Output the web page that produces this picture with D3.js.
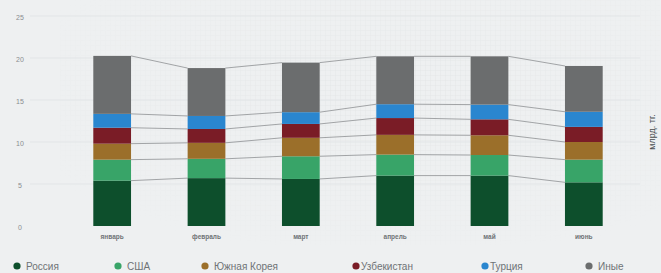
<!DOCTYPE html>
<html>
<head>
<meta charset="utf-8">
<script src="https://cdn.jsdelivr.net/npm/d3@7"></script>
<style>
  html, body { margin: 0; padding: 0; background: #eef0f1; }
  svg { display: block; font-family: "Liberation Sans", Arial, sans-serif; }
</style>
</head>
<body>
<div id="chart"></div>
<script>
// месяцы и значения по странам (млрд. тг.)
const months = ['январь', 'февраль', 'март', 'апрель', 'май', 'июнь'];
const russia = [5.4, 5.7, 5.6, 6.0, 6.0, 5.2];
const usa = [2.5, 2.3, 2.7, 2.5, 2.45, 2.7];
const korea = [1.9, 1.9, 2.2, 2.35, 2.35, 2.1];
const uzbek = [1.9, 1.65, 1.65, 2.0, 1.9, 1.8];
const turkey = [1.65, 1.55, 1.4, 1.65, 1.75, 1.8];
const other = [6.9, 5.7, 5.9, 5.7, 5.75, 5.45];
const yTicks = [0, 5, 10, 15, 20, 25];

const seriesNames = ['Россия', 'США', 'Южная Корея', 'Узбекистан', 'Турция', 'Иные'];
const seriesColors = ['#0d4f2c', '#38a468', '#9b6f2a', '#7a1c26', '#2a86cf', '#6b6d6e'];
const seriesData = [russia, usa, korea, uzbek, turkey, other];

const width = 661, height = 273;

const svg = d3.select('#chart').append('svg')
    .attr('width', width)
    .attr('height', height);

// фон с сеткой "миллиметровки"
const defs = svg.append('defs');
const pat = defs.append('pattern')
    .attr('id', 'grid')
    .attr('width', 5).attr('height', 5)
    .attr('patternUnits', 'userSpaceOnUse');
pat.append('path')
    .attr('d', 'M5 0H0V5')
    .attr('fill', 'none')
    .attr('stroke', '#d9dcde')
    .attr('stroke-width', 0.6);
const grad = defs.append('radialGradient').attr('id', 'fade')
    .attr('cx', '0.6').attr('cy', '0.35').attr('r', '0.6');
grad.append('stop').attr('offset', '0').attr('stop-color', '#fff').attr('stop-opacity', 0.9);
grad.append('stop').attr('offset', '1').attr('stop-color', '#fff').attr('stop-opacity', 0);
const mask = defs.append('mask').attr('id', 'gridMask');
mask.append('rect').attr('width', width).attr('height', height).attr('fill', 'url(#fade)');

svg.append('rect')
    .attr('width', width).attr('height', height)
    .attr('fill', '#eef0f1');
svg.append('rect')
    .attr('x', 60).attr('y', 0)
    .attr('width', 600).attr('height', 245)
    .attr('fill', 'url(#grid)')
    .attr('mask', 'url(#gridMask)');

// шкалы
const x = d3.scaleBand()
    .domain(months)
    .range([65, 631])
    .paddingInner(0.6)
    .paddingOuter(0.3);

const y = d3.scaleLinear()
    .domain([0, 25])
    .range([226, 16]);

// горизонтальные линии
svg.append('g')
    .selectAll('line')
    .data(yTicks.filter(d => d > 0))
    .enter().append('line')
    .attr('x1', 30).attr('x2', 640)
    .attr('y1', d => y(d)).attr('y2', d => y(d))
    .attr('stroke', '#e2e5e7')
    .attr('stroke-width', 1);

// ось Y
const yAxis = svg.append('g')
    .attr('transform', 'translate(24,0)')
    .call(d3.axisLeft(y).tickValues(yTicks).tickSize(0).tickPadding(0));
yAxis.select('.domain').remove();
yAxis.selectAll('text')
    .attr('text-anchor', 'middle')
    .attr('dy', '0.35em')
    .attr('transform', 'translate(-4,1)')
    .style('font-size', '7px')
    .style('fill', '#8a8d90');

// стек
const rows = months.map((m, i) => {
    const row = { month: m };
    seriesNames.forEach((s, j) => { row[s] = seriesData[j][i]; });
    return row;
});
const stacked = d3.stack().keys(seriesNames)(rows);

// соединительные линии между столбцами
const lineGroup = svg.append('g');
stacked.forEach(layer => {
    for (let i = 0; i < months.length - 1; i++) {
        lineGroup.append('line')
            .attr('x1', x(months[i]) + x.bandwidth())
            .attr('x2', x(months[i + 1]))
            .attr('y1', y(layer[i][1]))
            .attr('y2', y(layer[i + 1][1]))
            .attr('stroke', '#8e9193')
            .attr('stroke-width', 0.8);
    }
});

// столбцы
svg.append('g')
    .selectAll('g')
    .data(stacked)
    .enter().append('g')
    .attr('fill', (d, i) => seriesColors[i])
    .selectAll('rect')
    .data(d => d)
    .enter().append('rect')
    .attr('x', d => x(d.data.month))
    .attr('y', d => y(d[1]))
    .attr('width', x.bandwidth())
    .attr('height', d => y(d[0]) - y(d[1]));

// подписи месяцев
const xAxis = svg.append('g')
    .attr('transform', 'translate(0,234)')
    .call(d3.axisBottom(x).tickSize(0).tickPadding(0));
xAxis.select('.domain').remove();
xAxis.selectAll('text')
    .attr('dy', '0.7em')
    .style('font-size', '6.5px')
    .style('font-weight', 'bold')
    .style('fill', '#6f7376');

// единицы измерения
svg.append('text')
    .attr('transform', 'translate(655,132) rotate(-90)')
    .attr('text-anchor', 'middle')
    .style('font-size', '9px')
    .style('fill', '#4a4d50')
    .text('млрд. тг.');

// легенда
const legendX = [17, 118, 205, 356, 485, 589];
const legend = svg.append('g')
    .selectAll('g')
    .data(seriesNames)
    .enter().append('g')
    .attr('transform', (d, i) => `translate(${legendX[i]},266)`);
legend.append('circle')
    .attr('r', 3.6)
    .attr('fill', (d, i) => seriesColors[i]);
legend.append('text')
    .attr('x', (d, i) => i === 3 || i === 4 ? 5 : 9)
    .attr('dy', '0.35em')
    .style('font-size', '10px')
    .style('fill', '#6f7376')
    .text(d => d);
</script>
</body>
</html>
